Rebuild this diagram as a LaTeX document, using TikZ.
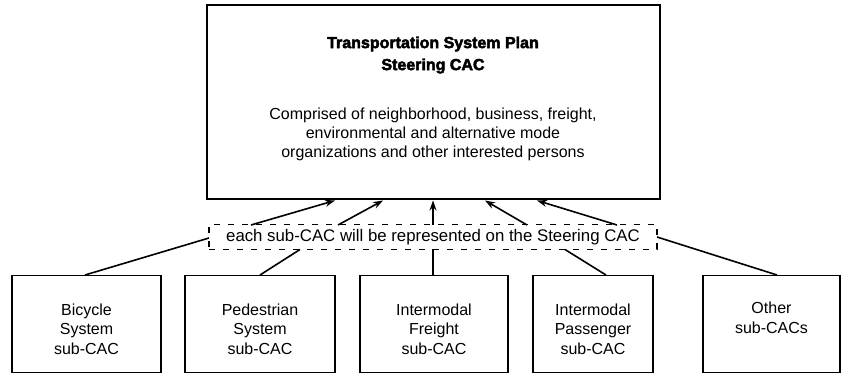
\documentclass[tikz,border=0pt]{standalone}
\usepackage{fontspec}
\setmainfont{Liberation Sans}
\newfontfamily\titlefont[FakeBold=3]{Liberation Sans Bold}
\usetikzlibrary{arrows.meta}
\begin{document}
\begin{tikzpicture}[x=1pt,y=-1pt,
  boxstyle/.style={draw,line width=1.7pt,inner sep=0pt},
  boxtext/.style={inner sep=0pt,align=center,font=\fontsize{16}{19.5}\selectfont},
  dashbox/.style={draw,dash pattern=on 6pt off 8pt,line width=1.2pt,inner sep=0pt,font=\fontsize{16.8}{19}\selectfont},
  link/.style={line width=1.6pt},
  arrowlink/.style={line width=1.6pt,-{Stealth[length=10pt,width=7pt]}}
]
\useasboundingbox (0,0) rectangle (841,374);
% top box
\node[boxstyle,minimum width=453pt,minimum height=194pt] (top) at (433.5,102) {};
\node[font=\titlefont\fontsize{16}{22}\selectfont,align=center,inner sep=0pt] (title) at (433,55) {Transportation System Plan\\Steering CAC};
\node[font=\fontsize{16}{19}\selectfont,align=center,inner sep=0pt] (body) at (433,134) {Comprised of neighborhood, business, freight,\\environmental and alternative mode\\organizations and other interested persons};
% dashed label
\node[dashbox,minimum width=448pt,minimum height=25pt] (dash) at (433,237) {each sub-CAC will be represented on the Steering CAC};
% bottom boxes
\node[boxstyle,minimum width=149pt,minimum height=97pt] (bike) at (86.5,324) {};
\node[boxstyle,minimum width=150pt,minimum height=97pt] (ped) at (260,324) {};
\node[boxstyle,minimum width=148pt,minimum height=97pt] (frt) at (434,324) {};
\node[boxstyle,minimum width=120pt,minimum height=97pt] (pas) at (593,324) {};
\node[boxstyle,minimum width=137pt,minimum height=97pt] (oth) at (771.5,324) {};
\node[boxtext] (biket) at (86.5,329) {Bicycle\\System\\sub-CAC};
\node[boxtext] (pedt) at (260,329) {Pedestrian\\System\\sub-CAC};
\node[boxtext] (frtt) at (434,329) {Intermodal\\Freight\\sub-CAC};
\node[boxtext] (past) at (593,329) {Intermodal\\Passenger\\sub-CAC};
\node[boxtext] (otht) at (771.5,318) {Other\\sub-CACs};
% named points
\coordinate (s1) at (251,225); \coordinate (e1) at (335,200.5);
\coordinate (s2) at (338,225); \coordinate (e2) at (383,200.5);
\coordinate (s3) at (433,225); \coordinate (e3) at (433,200.5);
\coordinate (s4) at (527,225); \coordinate (e4) at (485,200.5);
\coordinate (s5) at (617,225); \coordinate (e5) at (537,200.5);
\coordinate (b1) at (85,275);  \coordinate (d1) at (209,238);
\coordinate (b2) at (260,275); \coordinate (d2) at (300,249.5);
\coordinate (b3) at (433,275); \coordinate (d3) at (433,249.5);
\coordinate (b4) at (606,275); \coordinate (d4) at (565,249.5);
\coordinate (b5) at (777,275); \coordinate (d5) at (657,237);
% connectors
\foreach \i in {1,...,5}{
  \draw[link] (b\i) -- (d\i);
  \draw[arrowlink] (s\i) -- (e\i);
}
\end{tikzpicture}
\end{document}
